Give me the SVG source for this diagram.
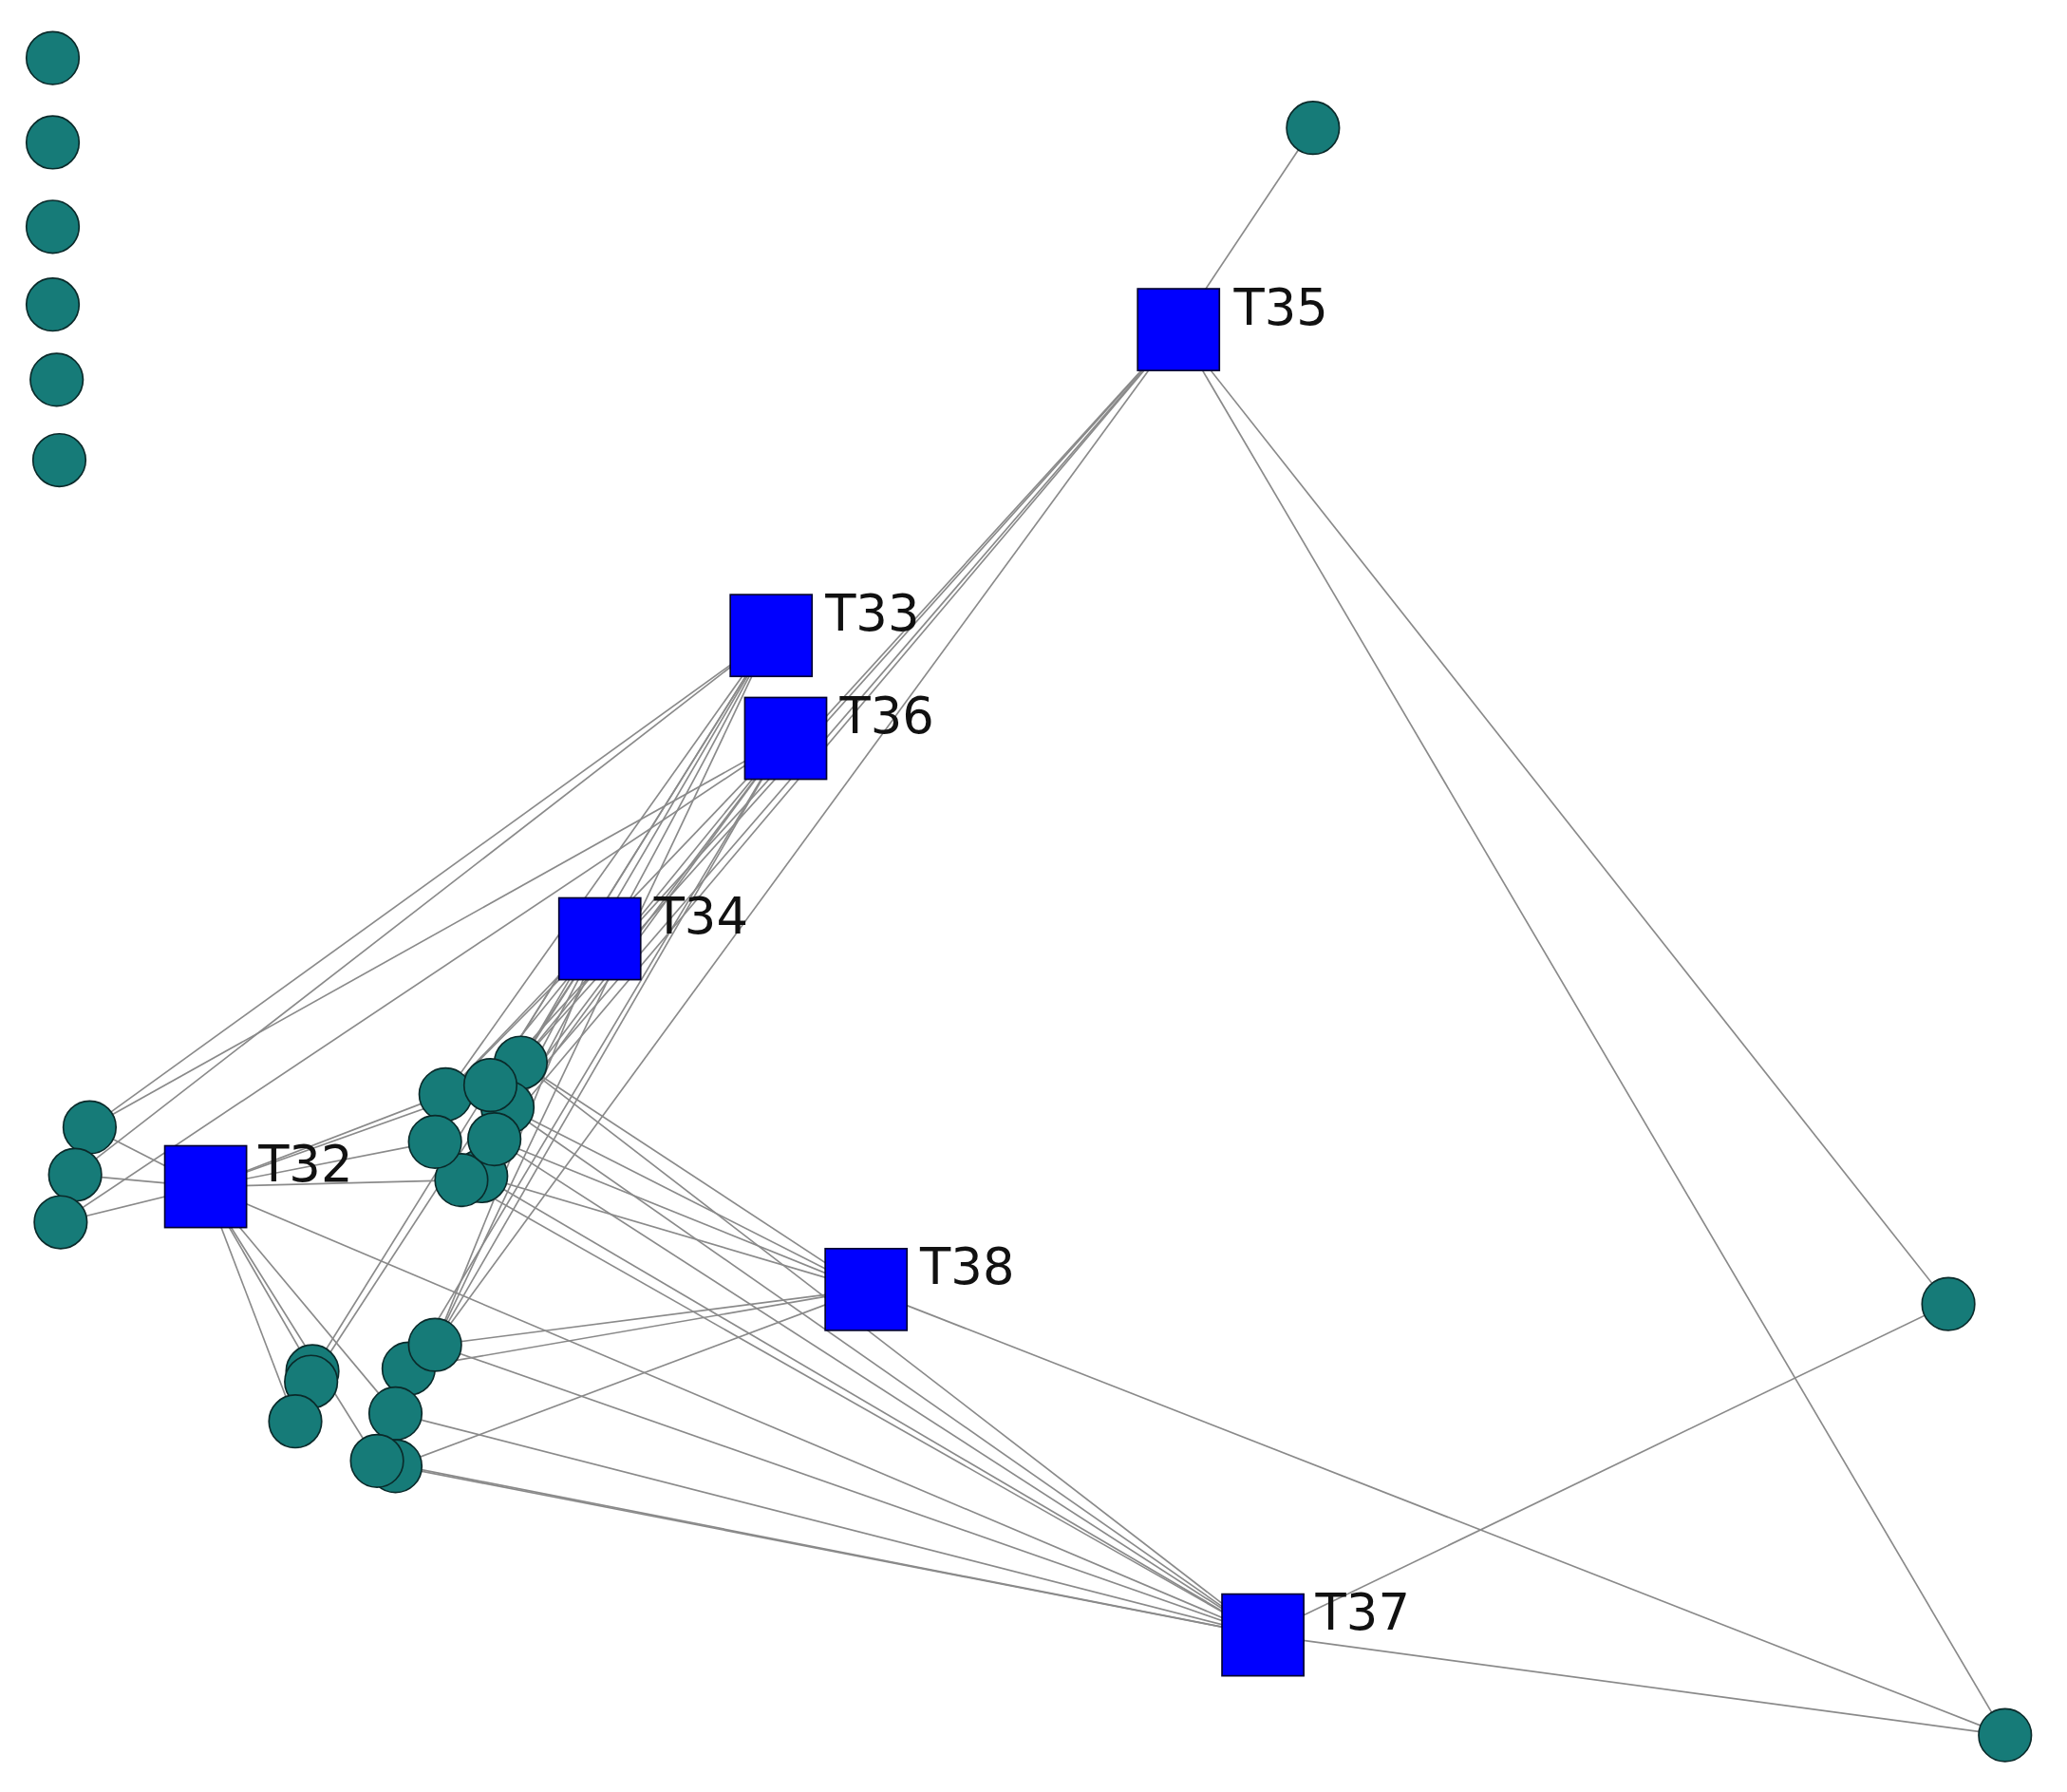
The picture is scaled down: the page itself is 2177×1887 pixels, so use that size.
<svg xmlns="http://www.w3.org/2000/svg" width="2177" height="1887" viewBox="0 0 2177 1887">
<style>
.c{fill:#167b78;stroke:#0a2a2a;stroke-width:1.2}
.s{fill:#0000ff;stroke:#000030;stroke-width:1.2}
.e line{stroke:#8a8a8a;stroke-width:1.2}
text{font-family:"DejaVu Sans",sans-serif;font-size:38px;fill:#111}
</style>
<rect width="2177" height="1887" fill="#fff"/>
<g transform="scale(1.3884)">
<g id="edges" class="e">
<line x1="894" y1="250" x2="996" y2="97"/><line x1="894" y1="250" x2="1478" y2="989"/><line x1="894" y1="250" x2="1521" y2="1316"/>
<line x1="958" y1="1240" x2="1478" y2="989"/><line x1="958" y1="1240" x2="1521" y2="1316"/><line x1="657" y1="978" x2="1521" y2="1316"/>
<line x1="585" y1="482" x2="68" y2="855"/><line x1="585" y1="482" x2="57" y2="891"/><line x1="596" y1="560" x2="68" y2="855"/><line x1="596" y1="560" x2="46" y2="927"/>
<line x1="156" y1="900" x2="68" y2="855"/><line x1="156" y1="900" x2="57" y2="891"/><line x1="156" y1="900" x2="46" y2="927"/>
<line x1="395" y1="806" x2="894" y2="250"/><line x1="372" y1="823" x2="894" y2="250"/><line x1="385" y1="840" x2="894" y2="250"/><line x1="375" y1="864" x2="894" y2="250"/><line x1="330" y1="1020" x2="894" y2="250"/>
<line x1="395" y1="806" x2="585" y2="482"/><line x1="338" y1="830" x2="585" y2="482"/><line x1="372" y1="823" x2="585" y2="482"/><line x1="365" y1="892" x2="585" y2="482"/><line x1="330" y1="1020" x2="585" y2="482"/><line x1="237" y1="1040" x2="585" y2="482"/>
<line x1="395" y1="806" x2="596" y2="560"/><line x1="338" y1="830" x2="596" y2="560"/><line x1="385" y1="840" x2="596" y2="560"/><line x1="350" y1="895" x2="596" y2="560"/><line x1="310" y1="1038" x2="596" y2="560"/><line x1="300" y1="1072" x2="596" y2="560"/>
<line x1="395" y1="806" x2="455" y2="712"/><line x1="338" y1="830" x2="455" y2="712"/><line x1="330" y1="866" x2="455" y2="712"/><line x1="375" y1="864" x2="455" y2="712"/><line x1="330" y1="1020" x2="455" y2="712"/><line x1="236" y1="1048" x2="455" y2="712"/>
<line x1="338" y1="830" x2="156" y2="900"/><line x1="330" y1="866" x2="156" y2="900"/><line x1="350" y1="895" x2="156" y2="900"/><line x1="372" y1="823" x2="156" y2="900"/>
<line x1="385" y1="840" x2="657" y2="978"/><line x1="375" y1="864" x2="657" y2="978"/><line x1="365" y1="892" x2="657" y2="978"/><line x1="395" y1="806" x2="657" y2="978"/>
<line x1="330" y1="1020" x2="657" y2="978"/><line x1="310" y1="1038" x2="657" y2="978"/><line x1="300" y1="1112" x2="657" y2="978"/>
<line x1="385" y1="840" x2="958" y2="1240"/><line x1="375" y1="864" x2="958" y2="1240"/><line x1="365" y1="892" x2="958" y2="1240"/><line x1="395" y1="806" x2="958" y2="1240"/><line x1="350" y1="895" x2="958" y2="1240"/>
<line x1="330" y1="1020" x2="958" y2="1240"/><line x1="300" y1="1072" x2="958" y2="1240"/><line x1="286" y1="1108" x2="958" y2="1240"/><line x1="300" y1="1112" x2="958" y2="1240"/>
<line x1="156" y1="900" x2="958" y2="1240"/><line x1="156" y1="900" x2="224" y2="1078"/><line x1="156" y1="900" x2="300" y2="1072"/><line x1="156" y1="900" x2="286" y2="1108"/><line x1="156" y1="900" x2="237" y2="1040"/>
</g>
<g id="n_iso1"><circle class="c" cx="40" cy="44" r="20"/></g>
<g id="n_iso2"><circle class="c" cx="40" cy="108" r="20"/></g>
<g id="n_iso3"><circle class="c" cx="40" cy="172" r="20"/></g>
<g id="n_iso4"><circle class="c" cx="40" cy="231" r="20"/></g>
<g id="n_iso5"><circle class="c" cx="43" cy="288" r="20"/></g>
<g id="n_iso6"><circle class="c" cx="45" cy="349" r="20"/></g>
<g id="n_r1"><circle class="c" cx="996" cy="97" r="20"/></g>
<g id="n_r2"><circle class="c" cx="1478" cy="989" r="20"/></g>
<g id="n_r3"><circle class="c" cx="1521" cy="1316" r="20"/></g>
<g id="n_l1"><circle class="c" cx="68" cy="855" r="20"/></g>
<g id="n_l2"><circle class="c" cx="57" cy="891" r="20"/></g>
<g id="n_l3"><circle class="c" cx="46" cy="927" r="20"/></g>
<g id="n_m"><circle class="c" cx="395" cy="806" r="20"/><circle class="c" cx="385" cy="840" r="20"/><circle class="c" cx="338" cy="830" r="20"/><circle class="c" cx="372" cy="823" r="20"/><circle class="c" cx="365" cy="892" r="20"/><circle class="c" cx="350" cy="895" r="20"/><circle class="c" cx="330" cy="866" r="20"/><circle class="c" cx="375" cy="864" r="20"/></g>
<g id="n_b"><circle class="c" cx="237" cy="1040" r="20"/><circle class="c" cx="236" cy="1048" r="20"/><circle class="c" cx="224" cy="1078" r="20"/><circle class="c" cx="310" cy="1038" r="20"/><circle class="c" cx="330" cy="1020" r="20"/><circle class="c" cx="300" cy="1072" r="20"/><circle class="c" cx="300" cy="1112" r="20"/><circle class="c" cx="286" cy="1108" r="20"/></g>
<g id="T35"><rect class="s" x="863" y="219" width="62" height="62"/><text x="936" y="246">T35</text></g>
<g id="T33"><rect class="s" x="554" y="451" width="62" height="62"/><text x="626" y="478">T33</text></g>
<g id="T36"><rect class="s" x="565" y="529" width="62" height="62"/><text x="637" y="556">T36</text></g>
<g id="T34"><rect class="s" x="424" y="681" width="62" height="62"/><text x="496" y="708">T34</text></g>
<g id="T32"><rect class="s" x="125" y="869" width="62" height="62"/><text x="196" y="896">T32</text></g>
<g id="T38"><rect class="s" x="626" y="947" width="62" height="62"/><text x="698" y="974">T38</text></g>
<g id="T37"><rect class="s" x="927" y="1209" width="62" height="62"/><text x="998" y="1236">T37</text></g>
</g>
</svg>
